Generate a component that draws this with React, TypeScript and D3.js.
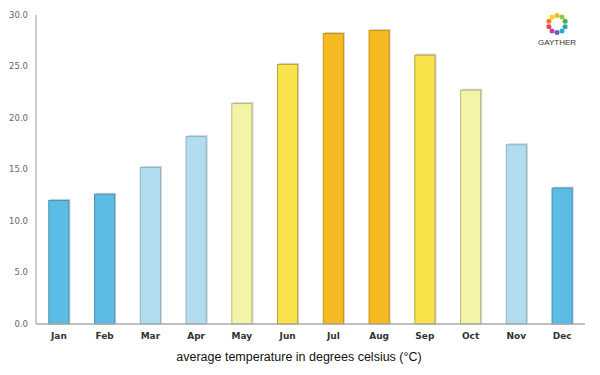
import React from "react";
import * as d3 from "d3";

const months = ["Jan", "Feb", "Mar", "Apr", "May", "Jun", "Jul", "Aug", "Sep", "Oct", "Nov", "Dec"];
const temps = [12.0, 12.6, 15.2, 18.2, 21.4, 25.2, 28.2, 28.5, 26.1, 22.7, 17.4, 13.2];
const fills = ["#5bbde5", "#5bbde5", "#b0def0", "#b0def0", "#f3f4a8", "#f9e24a", "#f5b921", "#f5b921", "#f9e24a", "#f3f4a8", "#b0def0", "#5bbde5"];
const strokes = ["#4a8fae", "#4a8fae", "#8fb3c2", "#8fb3c2", "#b8b87a", "#b5a43a", "#c9930f", "#c9930f", "#b5a43a", "#b8b87a", "#8fb3c2", "#4a8fae"];
const yTicks = [0, 5, 10, 15, 20, 25, 30];
const title = "average temperature in degrees celsius (°C)";
const logoColors = ["#f5b921", "#8dc63f", "#3bb54a", "#2aa7a0", "#27a9e1", "#5b6abf", "#c2449a", "#e8444f", "#f47b20", "#f9d423"];

export default function App() {
  const W = 600, H = 375;
  const left = 36, right = 585, top = 15, bottom = 324;
  const x = d3.scaleBand<string>().domain(months).range([left, right]).paddingInner(0.56).paddingOuter(0.28);
  const y = d3.scaleLinear().domain([0, 30]).range([bottom, top]);
  const cx = 557, cy = 24, r = 8.5;
  return (
    <svg width={W} height={H} style={{ position: "absolute", left: 0, top: 0 }}>
      <rect width={W} height={H} fill="#fff" />
      {months.map((m, i) => (
        <g key={m}>
          <rect x={x(m)! + 1.5} y={y(temps[i]) - 1.5} width={x.bandwidth()} height={bottom - y(temps[i]) + 1.5} fill="#d5d5d8" />
          <rect x={x(m)!} y={y(temps[i])} width={x.bandwidth()} height={bottom - y(temps[i])} fill={fills[i]} stroke={strokes[i]} strokeWidth={1} />
        </g>
      ))}
      <line x1={left} x2={left} y1={top} y2={bottom} stroke="#cccccc" strokeWidth={2} />
      <line x1={left} x2={right} y1={bottom} y2={bottom} stroke="#aaaaaa" strokeWidth={1.5} />
      {yTicks.map(t => (
        <text key={t} x={left - 8} y={y(t)} dy="0.35em" textAnchor="end" fontFamily="'DejaVu Sans', sans-serif" fontSize={8.5} fill="#666">
          {t.toFixed(1)}
        </text>
      ))}
      {months.map(m => (
        <text key={m} x={x(m)! + x.bandwidth() / 2} y={339} textAnchor="middle" fontFamily="'DejaVu Sans', sans-serif" fontSize={9} fontWeight="bold" fill="#333">
          {m}
        </text>
      ))}
      <text x={299} y={361} textAnchor="middle" fontFamily="'Liberation Sans', Arial, sans-serif" fontSize={12.5} fill="#111">
        {title}
      </text>
      {logoColors.map((c, i) => {
        const a = (i / logoColors.length) * Math.PI * 2 - Math.PI / 2;
        return <circle key={i} cx={cx + r * Math.cos(a)} cy={cy + r * Math.sin(a)} r={2.5} fill={c} />;
      })}
      <text x={cx} y={45} textAnchor="middle" fontFamily="'Liberation Sans', Arial, sans-serif" fontSize={8} fill="#333">GAYTHER</text>
    </svg>
  );
}
